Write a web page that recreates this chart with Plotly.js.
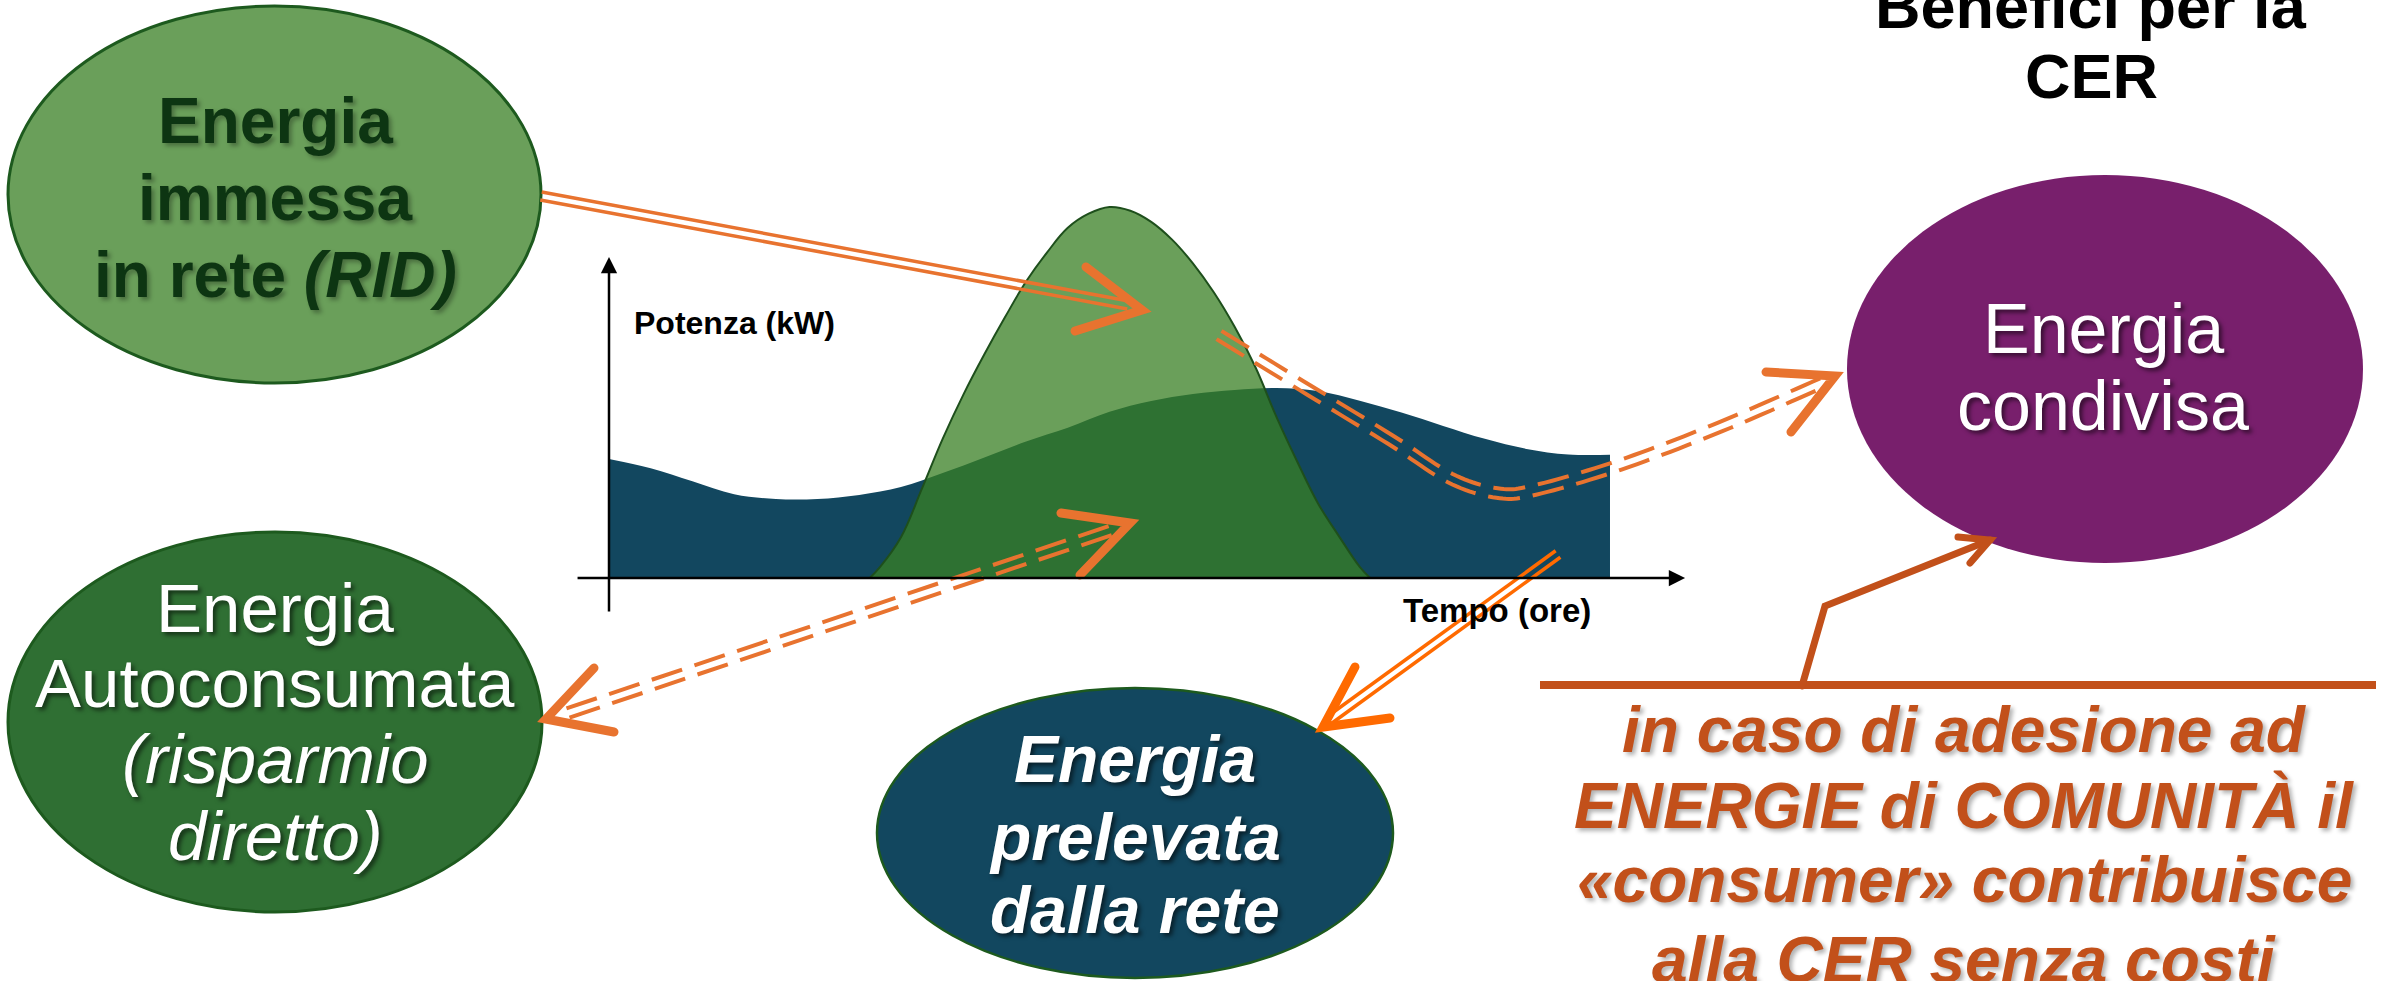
<!DOCTYPE html>
<html>
<head>
<meta charset="utf-8">
<script src="https://cdn.plot.ly/plotly-3.0.1.min.js"></script>
<style>html,body{margin:0;padding:0;background:#fff;overflow:hidden}</style>
</head>
<body>
<div id="chart" style="width:2387px;height:981px"></div>
<script>
// ---------------- DATA ----------------
const hours = [0,1,2,3,4,5,6,7,8,9,10,11,12,13,14,15,16,17,18,19,20,21,22,23,24];
const consumption = [3.21,2.96,2.61,2.26,2.13,2.13,2.24,2.45,2.83,3.25,3.68,4.05,4.48,4.77,4.96,5.07,5.12,5.04,4.78,4.46,4.10,3.75,3.48,3.33,3.32];
const pvHours = [6.25,6.5,7,7.5,8,8.5,9,9.5,10,10.5,11,11.5,12,12.5,13,13.5,14,14.5,15,15.5,16,16.5,17,17.5,18,18.25];
const pvProduction = [0,0.3,1.1,2.4,3.75,4.95,6.03,7.04,7.99,8.77,9.44,9.82,10.0,9.9,9.6,9.12,8.48,7.7,6.77,5.68,4.35,3.14,2.01,1.13,0.3,0];
const yAxisLabel = "Potenza (kW)";
const xAxisLabel = "Tempo (ore)";
const titleLines = ["Benefici per la", "CER"];
const bubbleImmessa = ["Energia", "immessa", "in rete <i>(RID)</i>"];
const bubbleAuto = ["Energia", "Autoconsumata", "<i>(risparmio</i>", "<i>diretto)</i>"];
const bubbleCondivisa = ["Energia", "condivisa"];
const bubblePrelevata = ["Energia", "prelevata", "dalla rete"];
const noteLines = ["in caso di adesione ad", "ENERGIE di COMUNITÀ il", "«consumer» contribuisce", "alla CER senza costi"];

// ---------------- HELPERS ----------------
const W = 2387, H = 981;
const X = px => px / W;
const Y = py => 1 - py / H;
const FONT = "Liberation Sans, Arial, Helvetica, sans-serif";
const ORANGE = "#E8732F", ORANGE2 = "#FF6A00", RUST = "#C2501A";

const shapes = [];
const roundIdx = [];
function pathStr(pts) {
  return pts.map((p, i) => (i ? "L" : "M") + X(p[0]).toFixed(6) + "," + Y(p[1]).toFixed(6)).join(" ");
}
function offsetPts(pts, d) {
  return pts.map((p, i) => {
    const a = pts[Math.max(i - 1, 0)], b = pts[Math.min(i + 1, pts.length - 1)];
    let tx = b[0] - a[0], ty = b[1] - a[1];
    const L = Math.hypot(tx, ty) || 1; tx /= L; ty /= L;
    return [p[0] - ty * d, p[1] + tx * d];
  });
}
function catmull(pts, n) {
  const out = [];
  for (let i = 0; i < pts.length - 1; i++) {
    const p0 = pts[Math.max(i - 1, 0)], p1 = pts[i], p2 = pts[i + 1], p3 = pts[Math.min(i + 2, pts.length - 1)];
    for (let k = 0; k < n; k++) {
      const t = k / n, t2 = t * t, t3 = t2 * t;
      const f = j => 0.5 * ((2 * p1[j]) + (-p0[j] + p2[j]) * t + (2 * p0[j] - 5 * p1[j] + 4 * p2[j] - p3[j]) * t2 + (-p0[j] + 3 * p1[j] - 3 * p2[j] + p3[j]) * t3);
      out.push([f(0), f(1)]);
    }
  }
  out.push(pts[pts.length - 1]);
  return out;
}
function ellipse(x0, y0, x1, y1, fill, border, bw) {
  shapes.push({type: "circle", xref: "paper", yref: "paper", x0: X(x0), x1: X(x1), y0: Y(y1), y1: Y(y0),
    fillcolor: fill, line: {color: border, width: bw}, layer: "above"});
}
function line(pts, color, width, dash, round) {
  if (round) roundIdx.push(shapes.length);
  shapes.push({type: "path", xref: "paper", yref: "paper", path: pathStr(pts),
    line: {color: color, width: width, dash: dash || "solid"}, fillcolor: "rgba(0,0,0,0)", layer: "above"});
}
function doubleLine(pts, color, width, gap, dash) {
  [-gap, gap].forEach(d => line(offsetPts(pts, d), color, width, dash));
}

// ---------------- DECORATION ----------------
ellipse(8, 6, 541, 383, "#6A9F5A", "#1D5A1E", 3);
ellipse(8, 532, 542, 912, "#2F6F33", "#1D5A1E", 3);
ellipse(1847, 175, 2363, 563, "#781F6C", "#781F6C", 0);
ellipse(877, 688, 1393, 978, "#12475F", "#1D5A1E", 2.5);

// arrow 1 : immessa -> chart
doubleLine([[541, 196], [1128, 305]], ORANGE, 3.5, 4);
line([[1086, 267], [1142, 310], [1075, 331]], ORANGE, 9, null, true);
// arrow 2 : dashed curve -> condivisa
const curve = catmull([[1219, 335], [1294, 381], [1391, 440], [1450, 478], [1497, 493], [1535, 490], [1620, 465], [1720, 427], [1826, 381]], 12);
doubleLine(curve, ORANGE, 4, 4.8, "32px,13px");
line([[1766, 372], [1835, 376], [1791, 432]], ORANGE, 9, null, true);
// arrow 3 : dashed double-headed chart <-> autoconsumata
doubleLine([[568, 713], [1124, 526]], ORANGE, 4, 4.8, "32px,13px");
line([[594, 668], [546, 719], [614, 732]], ORANGE, 9, null, true);
line([[1061, 513], [1130, 523], [1080, 575]], ORANGE, 9, null, true);
// arrow 4 : chart -> prelevata
doubleLine([[1558, 554], [1328, 721]], ORANGE2, 3.5, 4);
line([[1355, 667], [1323, 727], [1390, 718]], ORANGE2, 9, null, true);
// rust connector
line([[1540, 685], [2376, 685]], RUST, 8);
line([[1802, 686], [1825, 606], [1990, 540]], RUST, 7, null, true);
line([[1958, 537], [1990, 540], [1970, 563]], RUST, 7, null, true);

// ---------------- TEXT ----------------
const annotations = [];
function txt(text, cx, baseline, size, opt) {
  opt = opt || {};
  annotations.push({xref: "paper", yref: "paper", x: X(cx), y: Y(baseline - 0.3465 * size),
    xanchor: opt.anchor || "center", yanchor: "middle", text: text, showarrow: false,
    borderpad: 0, borderwidth: 0,
    font: {family: FONT, size: size, color: opt.color || "#000", weight: opt.weight || "normal",
      style: opt.style || "normal", shadow: opt.shadow || "none"}});
}
const shDark = "3px 3px 4px rgba(0,0,0,0.55)";
const shSoft = "3px 3px 4px rgba(0,0,0,0.3)";
[143, 220, 297].forEach((b, i) => txt(bubbleImmessa[i], 275, b, 64, {weight: "bold", color: "#0D3512", shadow: shSoft}));
[632, 707, 783, 860].forEach((b, i) => txt(bubbleAuto[i], 275, b, 69, {color: "#ffffff", shadow: shDark}));
[353, 430].forEach((b, i) => txt(bubbleCondivisa[i], 2103, b, 70, {color: "#ffffff", shadow: shDark}));
[782, 860, 933].forEach((b, i) => txt(bubblePrelevata[i], 1135, b, 66, {color: "#ffffff", weight: "bold", style: "italic", shadow: shDark}));
[28, 98].forEach((b, i) => txt(titleLines[i], 2091, b, 63, {weight: "bold"}));
[752, 828, 902, 982].forEach((b, i) => txt(noteLines[i], 1964, b, 64, {weight: "bold", style: "italic", color: RUST, shadow: shSoft}));
txt(yAxisLabel, 634, 334, 32, {anchor: "left", weight: "bold"});
txt(xAxisLabel, 1403, 622, 33, {anchor: "left", weight: "bold"});

// chart axes with arrow heads (in data coordinates)
annotations.push({xref: "x", yref: "y", axref: "x", ayref: "y", x: 25.8, y: 0, ax: -0.79, ay: 0, text: "",
  showarrow: true, arrowhead: 2, arrowsize: 1.3, arrowwidth: 2.5, arrowcolor: "#000", standoff: 0});
annotations.push({xref: "x", yref: "y", axref: "x", ayref: "y", x: 0, y: 8.65, ax: 0, ay: -0.94, text: "",
  showarrow: true, arrowhead: 2, arrowsize: 1.3, arrowwidth: 2.5, arrowcolor: "#000", standoff: 0});

// ---------------- TRACES ----------------
const traces = [
  {x: hours, y: consumption, type: "scatter", mode: "lines", fill: "tozeroy", fillcolor: "#12475F",
   line: {color: "#12475F", width: 0, shape: "spline", smoothing: 1}, hoverinfo: "skip"},
  {x: pvHours, y: pvProduction, type: "scatter", mode: "lines", fill: "tozeroy", fillcolor: "rgba(56,127,35,0.75)",
   line: {color: "#1E4F1C", width: 2, shape: "spline", smoothing: 1.1}, hoverinfo: "skip"}
];

const layout = {
  width: W, height: H, margin: {l: 0, r: 0, t: 0, b: 0, pad: 0},
  paper_bgcolor: "#ffffff", plot_bgcolor: "rgba(0,0,0,0)", showlegend: false,
  xaxis: {domain: [568 / W, 1702 / W], range: [-0.983, 26.206], visible: false, fixedrange: true},
  yaxis: {domain: [1 - 620 / H, 1 - 190 / H], range: [-1.132, 10.458], visible: false, fixedrange: true},
  shapes: shapes, annotations: annotations
};

Plotly.newPlot("chart", traces, layout, {staticPlot: true, displayModeBar: false}).then(gd => {
  roundIdx.forEach(i => {
    gd.querySelectorAll('path[data-index="' + i + '"]').forEach(p => {
      p.style.strokeLinecap = "round";
    });
  });
});
</script>
</body>
</html>
